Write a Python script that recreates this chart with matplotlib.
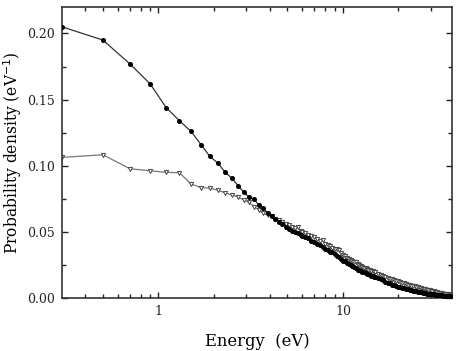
import matplotlib
matplotlib.use("Agg")
from matplotlib import pyplot as plt
from matplotlib.ticker import MultipleLocator, FixedLocator, NullFormatter

plt.rcParams['font.family'] = ['DejaVu Serif']

energy = [0.3, 0.5, 0.7, 0.9, 1.1, 1.3, 1.5, 1.7, 1.9, 2.1,
          2.3, 2.5, 2.7, 2.9, 3.1, 3.3, 3.5, 3.7, 3.9, 4.1,
          4.3, 4.5, 4.7, 4.9, 5.1, 5.3, 5.5, 5.7, 5.9,
          6.0, 6.25, 6.5, 6.75, 7.0, 7.25, 7.5, 7.75, 8.0, 8.25,
          8.5, 8.75, 9.0, 9.25, 9.5, 9.75, 10.0, 10.25, 10.5, 10.75,
          11.0, 11.25, 11.5, 11.75, 12.0, 12.25, 12.5, 12.75, 13.0, 13.25,
          13.5, 13.75, 14.0, 14.25, 14.5, 14.75, 15.0,
          15.5, 16, 16.5, 17, 17.5, 18, 18.5, 19, 19.5, 20,
          20.5, 21, 21.5, 22, 22.5, 23, 23.5, 24, 24.5, 25,
          25.5, 26, 26.5, 27, 27.5, 28, 28.5, 29, 29.5, 30,
          30.5, 31, 31.5, 32, 32.5, 33, 33.5, 34, 34.5, 35,
          35.5, 36, 36.5, 37, 37.5, 38, 38.5, 39, 39.5, 40]

# filled circles
filled = [0.205, 0.195, 0.177, 0.162, 0.144, 0.134, 0.126, 0.116, 0.107, 0.102,
          0.095, 0.0905, 0.085, 0.080, 0.076, 0.075, 0.070, 0.068, 0.0645, 0.062,
          0.060, 0.0578, 0.056, 0.054, 0.0525, 0.051, 0.0502, 0.049, 0.0478,
          0.0472, 0.0462, 0.0455, 0.0432, 0.0425, 0.0410, 0.0402, 0.0385, 0.0372, 0.0365,
          0.0350, 0.0345, 0.0330, 0.0318, 0.0310, 0.0292, 0.0282, 0.0276, 0.0265, 0.0260,
          0.0250, 0.0242, 0.0232, 0.0225, 0.0215, 0.0212, 0.0205, 0.0200, 0.0195, 0.0188,
          0.0184, 0.0178, 0.0175, 0.0170, 0.0166, 0.0162, 0.0158,
          0.0150, 0.0142, 0.0133, 0.0122, 0.0116, 0.0110, 0.0102, 0.0097, 0.0091, 0.0086,
          0.0081, 0.0076, 0.0073, 0.0070, 0.0065, 0.0061, 0.0058, 0.0055, 0.0052, 0.0050,
          0.0047, 0.0045, 0.0042, 0.0040, 0.0037, 0.0035, 0.0034, 0.0032, 0.0031, 0.0030,
          0.0028, 0.0027, 0.0026, 0.0025, 0.0023, 0.0022, 0.0021, 0.0020, 0.0019, 0.0018,
          0.0016, 0.0015, 0.0014, 0.0013, 0.0013, 0.0012, 0.0011, 0.0010, 0.0009, 0.0008]

# open triangles
hollow = [0.1063, 0.1083, 0.0977, 0.0962, 0.0950, 0.0947, 0.0862, 0.0835, 0.0830, 0.0815,
          0.0794, 0.0779, 0.0764, 0.0741, 0.0722, 0.0690, 0.0666, 0.0640, 0.0628, 0.0618,
          0.0600, 0.0590, 0.0575, 0.0560, 0.0555, 0.0540, 0.0530, 0.0535, 0.0505,
          0.0500, 0.0488, 0.0478, 0.0470, 0.0462, 0.0445, 0.0432, 0.0440, 0.0412, 0.0400,
          0.0392, 0.0380, 0.0370, 0.0372, 0.0362, 0.0340, 0.0322, 0.0315, 0.0302, 0.0295,
          0.0285, 0.0278, 0.0270, 0.0272, 0.0258, 0.0250, 0.0242, 0.0235, 0.0230, 0.0224,
          0.0220, 0.0214, 0.0210, 0.0205, 0.0201, 0.0198, 0.0194,
          0.0185, 0.0176, 0.0167, 0.0160, 0.0152, 0.0146, 0.0141, 0.0135, 0.0130, 0.0125,
          0.0120, 0.0115, 0.0110, 0.0106, 0.0100, 0.0096, 0.0093, 0.0090, 0.0087, 0.0085,
          0.0081, 0.0078, 0.0074, 0.0070, 0.0068, 0.0065, 0.0062, 0.0060, 0.0057, 0.0055,
          0.0052, 0.0050, 0.0047, 0.0045, 0.0042, 0.0040, 0.0038, 0.0037, 0.0035, 0.0033,
          0.0031, 0.0030, 0.0028, 0.0027, 0.0025, 0.0024, 0.0022, 0.0020, 0.0019, 0.0018]

fig = plt.figure(figsize=(4.65, 3.51), dpi=100)
ax = fig.add_axes([62/465, 1-298/351, 390/465, 291/351])

ax.plot(energy, hollow, '-', color='#777777', lw=0.9, marker='v', ms=3.0,
        mfc='white', mec='#444444', mew=0.7, zorder=2)
ax.plot(energy, filled, '-', color='#333333', lw=0.9, marker='o', ms=2.6,
        mfc='black', mec='black', zorder=3)

ax.set_xscale('log')
ax.set_xlim(0.3, 39)
ax.set_ylim(0, 0.22)

ax.xaxis.set_major_locator(FixedLocator([1, 10]))
ax.xaxis.set_minor_locator(FixedLocator([0.4, 0.5, 0.6, 0.7, 0.8, 0.9,
                                         2, 3, 4, 5, 6, 7, 8, 9, 20, 30]))
ax.xaxis.set_minor_formatter(NullFormatter())
ax.set_xticklabels(['1', '10'])
ax.yaxis.set_major_locator(MultipleLocator(0.05))
ax.yaxis.set_minor_locator(MultipleLocator(0.025))
ax.yaxis.set_major_formatter(plt.FuncFormatter(lambda v, p: '%.2f' % v))

ax.tick_params(which='both', direction='in', top=True, right=True,
               labelsize=9, colors='#222222')
ax.tick_params(which='major', length=4, width=1, pad=5)
ax.tick_params(which='minor', length=3, width=1)
for s in ax.spines.values():
    s.set_linewidth(1.2)
    s.set_color('#333333')

ax.set_xlabel('Energy  (eV)', fontsize=11.8, labelpad=11)
ax.set_ylabel('Probability density (eV$^{-1}$)', fontsize=11.2, labelpad=2)

fig.savefig('out.png', dpi=100)
